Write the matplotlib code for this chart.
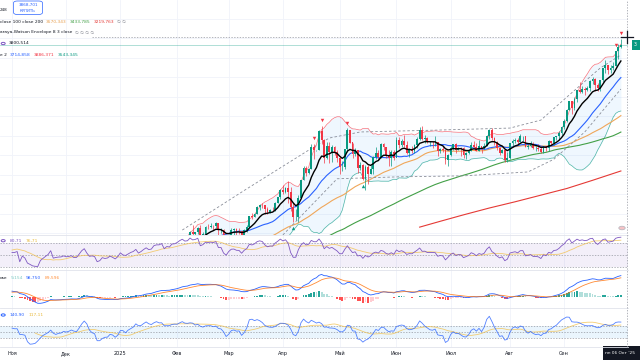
import numpy as np
import pandas as pd
import matplotlib
matplotlib.use("Agg")
import matplotlib.pyplot as plt
from matplotlib.patches import Rectangle, FancyBboxPatch, Circle
from matplotlib.lines import Line2D

# ---------------- data (daily bars, gold) ----------------
# warm-up bars (Oct 2024) used only to initialise the indicators
warm_close = [2662, 2657, 2656, 2653, 2644, 2622, 2608, 2630, 2657, 2649, 2662, 2674, 2692, 2722, 2720, 2748, 2715, 2735, 2747, 2743, 2774, 2788, 2744]
warm_high = [2670, 2672, 2670, 2675, 2660, 2650, 2625, 2633, 2671, 2662, 2674, 2676, 2697, 2724, 2740, 2749, 2758, 2739, 2749, 2748, 2774, 2790, 2790]
warm_low = [2625, 2642, 2644, 2643, 2635, 2605, 2604, 2603, 2626, 2641, 2640, 2653, 2669, 2692, 2704, 2715, 2708, 2715, 2723, 2730, 2733, 2764, 2730]

close_nov = [2736, 2736, 2743, 2659, 2706, 2685, 2619, 2598, 2573, 2565, 2563, 2611, 2631, 2651, 2670, 2715, 2625, 2633, 2638, 2639, 2650]
high_nov = [2762, 2750, 2750, 2749, 2712, 2709, 2685, 2626, 2618, 2588, 2577, 2614, 2639, 2656, 2673, 2721, 2721, 2640, 2654, 2642, 2665]
low_nov = [2730, 2728, 2730, 2652, 2658, 2679, 2610, 2590, 2570, 2537, 2560, 2562, 2606, 2627, 2652, 2668, 2605, 2605, 2620, 2630, 2636]

close_dec = [2640, 2643, 2650, 2632, 2633, 2660, 2694, 2718, 2681, 2648, 2652, 2646, 2587, 2595, 2622, 2613, 2617, 2633, 2621, 2606, 2624]
high_dec = [2657, 2650, 2658, 2654, 2644, 2667, 2697, 2721, 2726, 2690, 2656, 2654, 2654, 2632, 2632, 2630, 2621, 2638, 2637, 2623, 2628]
low_dec = [2621, 2628, 2635, 2624, 2613, 2631, 2658, 2685, 2677, 2644, 2640, 2637, 2583, 2583, 2584, 2603, 2607, 2616, 2615, 2597, 2602]

close_jan = [2658, 2640, 2635, 2648, 2661, 2670, 2690, 2663, 2677, 2697, 2715, 2703, 2708, 2745, 2755, 2755, 2770, 2740, 2763, 2760, 2795, 2798]
high_jan = [2660, 2665, 2649, 2665, 2670, 2677, 2697, 2690, 2679, 2700, 2724, 2718, 2715, 2746, 2763, 2763, 2786, 2772, 2765, 2774, 2799, 2817]
low_jan = [2622, 2634, 2614, 2637, 2648, 2656, 2664, 2656, 2661, 2671, 2694, 2696, 2698, 2700, 2740, 2744, 2753, 2730, 2738, 2753, 2756, 2779]

close_feb = [2815, 2843, 2866, 2856, 2861, 2908, 2898, 2905, 2928, 2883, 2898, 2935, 2933, 2939, 2936, 2951, 2915, 2916, 2876, 2858]
high_feb = [2831, 2845, 2882, 2874, 2887, 2911, 2942, 2909, 2933, 2943, 2905, 2936, 2947, 2955, 2941, 2956, 2950, 2930, 2923, 2884]
low_feb = [2772, 2813, 2837, 2834, 2854, 2860, 2881, 2864, 2897, 2876, 2882, 2895, 2921, 2928, 2919, 2930, 2889, 2900, 2873, 2832]

close_mar = [2893, 2918, 2920, 2911, 2910, 2890, 2917, 2934, 2989, 2984, 3000, 3034, 3048, 3044, 3023, 3011, 3020, 3019, 3057, 3085, 3124]
high_mar = [2896, 2928, 2928, 2925, 2930, 2914, 2920, 2941, 2990, 3005, 3002, 3038, 3053, 3057, 3047, 3036, 3024, 3033, 3059, 3086, 3128]
low_mar = [2856, 2880, 2894, 2894, 2899, 2880, 2881, 2906, 2932, 2975, 2982, 3000, 3018, 3028, 2999, 3000, 3006, 3016, 3013, 3055, 3076]

close_apr = [3113, 3134, 3114, 3037, 2982, 2983, 3083, 3175, 3237, 3210, 3228, 3343, 3327, 3327, 3424, 3381, 3288, 3349, 3319, 3345, 3316, 3288]
high_apr = [3149, 3136, 3168, 3136, 3055, 3023, 3099, 3176, 3245, 3245, 3233, 3358, 3358, 3330, 3430, 3450, 3386, 3370, 3368, 3352, 3350, 3326]
low_apr = [3100, 3105, 3054, 3015, 2957, 2970, 2957, 3080, 3175, 3194, 3205, 3229, 3283, 3320, 3330, 3360, 3260, 3283, 3260, 3268, 3300, 3268]

close_may = [3239, 3240, 3334, 3431, 3366, 3305, 3325, 3236, 3250, 3178, 3240, 3203, 3230, 3290, 3314, 3294, 3357, 3342, 3301, 3287, 3317, 3289]
high_may = [3290, 3269, 3335, 3438, 3416, 3366, 3340, 3304, 3265, 3258, 3252, 3253, 3250, 3295, 3345, 3325, 3366, 3365, 3345, 3325, 3330, 3325]
low_may = [3202, 3222, 3232, 3318, 3365, 3286, 3297, 3208, 3227, 3172, 3121, 3154, 3205, 3207, 3283, 3277, 3287, 3325, 3285, 3245, 3245, 3277]

close_jun = [3381, 3353, 3373, 3352, 3310, 3325, 3322, 3354, 3386, 3432, 3385, 3388, 3369, 3369, 3368, 3368, 3323, 3333, 3327, 3274, 3303]
high_jun = [3392, 3392, 3385, 3403, 3375, 3340, 3348, 3360, 3396, 3446, 3451, 3405, 3395, 3372, 3375, 3398, 3368, 3340, 3350, 3330, 3305]
low_jun = [3290, 3340, 3343, 3343, 3308, 3294, 3312, 3314, 3338, 3380, 3380, 3366, 3362, 3348, 3340, 3347, 3295, 3313, 3315, 3255, 3247]

close_jul = [3338, 3357, 3326, 3337, 3336, 3301, 3313, 3324, 3355, 3344, 3324, 3347, 3339, 3350, 3397, 3431, 3387, 3368, 3337, 3314, 3326, 3274, 3289]
high_jul = [3350, 3358, 3366, 3345, 3342, 3345, 3317, 3330, 3368, 3375, 3366, 3377, 3345, 3362, 3402, 3433, 3439, 3394, 3373, 3345, 3334, 3334, 3315]
low_jul = [3297, 3329, 3312, 3326, 3296, 3287, 3283, 3308, 3322, 3340, 3320, 3320, 3310, 3333, 3347, 3384, 3381, 3351, 3325, 3301, 3310, 3268, 3268]

close_aug = [3363, 3373, 3381, 3369, 3397, 3398, 3342, 3348, 3356, 3336, 3336, 3332, 3315, 3348, 3339, 3372, 3365, 3393, 3397, 3416, 3448]
high_aug = [3363, 3385, 3390, 3390, 3409, 3400, 3400, 3357, 3375, 3368, 3348, 3358, 3346, 3350, 3350, 3379, 3376, 3394, 3398, 3424, 3453]
low_aug = [3282, 3346, 3366, 3358, 3370, 3375, 3342, 3331, 3345, 3331, 3323, 3323, 3311, 3312, 3321, 3322, 3352, 3351, 3377, 3386, 3402]

close_sep = [3476, 3533, 3578, 3545, 3587, 3636, 3625, 3640, 3634, 3643, 3679, 3690, 3660, 3644, 3685, 3746, 3763, 3736, 3749, 3760, 3833, 3858]
high_sep = [3489, 3540, 3578, 3564, 3600, 3637, 3674, 3657, 3652, 3655, 3685, 3703, 3697, 3670, 3688, 3749, 3791, 3766, 3761, 3779, 3835, 3872]
low_sep = [3436, 3470, 3531, 3511, 3534, 3576, 3620, 3618, 3610, 3631, 3631, 3668, 3628, 3628, 3631, 3675, 3721, 3717, 3722, 3739, 3756, 3792]

close_oct = [3866]
high_oct = [3895]
low_oct = [3849]

# 200-day SMA (bar index, value)
ma200_idx = [158, 166, 175, 185, 195, 205, 215, 225, 236]
ma200_val = [2932, 2962, 2995, 3030, 3062, 3096, 3130, 3172, 3220]

# Nadaraya-Watson envelope (bar index, value)
nw_up_idx = [66, 90, 115, 123, 135, 166, 193, 205, 216, 228, 236]
nw_up_val = [2917, 3120, 3327, 3389, 3420, 3430, 3440, 3481, 3610, 3748, 3815]
nw_lo_idx = [105, 126, 150, 175, 200, 210, 222, 236]
nw_lo_val = [2892, 3180, 3190, 3195, 3215, 3280, 3420, 3640]

# signal bars of the envelope
sell_idx = [117, 120, 130, 234, 236]
buy_idx = [109, 136]

month_labels = ["Ноя", "Дек", "2025", "Фев", "Мар", "Апр", "Май", "Июн", "Июл", "Авг", "Сен"]
month_start = [0, 21, 42, 64, 84, 105, 127, 149, 170, 193, 214]

# legend rows (text, colour)
leg_ma = [("close 100 close 200", "#131722"), ("3570,343", "#E8A050"), ("3433,785", "#43A047"),
          ("3219,763", "#E53935"), ("∅ ∅", "#787B86")]
leg_nw = [("araya-Watson Envelope 8 3 close", "#131722"), ("∅ ∅ ∅ ∅", "#787B86")]
leg_ema = [("3800,514", "#131722")]
leg_bb = [("e 2", "#131722"), ("3714,858", "#2962FF"), ("3886,371", "#F23645"), ("3543,345", "#089981")]
leg_rsi = [("80,71", "#7E57C2"), ("76,71", "#E8B93C")]
leg_macd = [("ose", "#131722"), ("9,154", "#7FCBC4"), ("98,750", "#2962FF"), ("89,596", "#FF8F3A")]
leg_cci = [("140,90", "#2962FF"), ("117,11", "#E8B93C")]

# ---------------- assemble ----------------
closes = (close_nov + close_dec + close_jan + close_feb + close_mar + close_apr +
          close_may + close_jun + close_jul + close_aug + close_sep + close_oct)
highs = (high_nov + high_dec + high_jan + high_feb + high_mar + high_apr +
         high_may + high_jun + high_jul + high_aug + high_sep + high_oct)
lows = (low_nov + low_dec + low_jan + low_feb + low_mar + low_apr +
        low_may + low_jun + low_jul + low_aug + low_sep + low_oct)
nw_ = len(warm_close)
allc = pd.Series(warm_close + closes, dtype=float)
allh = pd.Series(warm_high + highs, dtype=float)
alll = pd.Series(warm_low + lows, dtype=float)
allx = np.arange(len(allc)) - nw_
opens = allc.shift(1).fillna(allc.iloc[0]).values

# indicators
ma50 = allc.rolling(50).mean()
ma100 = allc.rolling(100).mean()
ema9 = allc.ewm(span=9, adjust=False).mean()
bb_mid = allc.rolling(20).mean()
bb_sd = allc.rolling(20).std(ddof=0)
bb_up = bb_mid + 2 * bb_sd
bb_lo = bb_mid - 2 * bb_sd
d = allc.diff()
up = d.clip(lower=0).ewm(alpha=1 / 14, adjust=False).mean()
dn = (-d.clip(upper=0)).ewm(alpha=1 / 14, adjust=False).mean()
rsi = 100 - 100 / (1 + up / dn)
rsi_ma = rsi.rolling(14).mean()
macd = allc.ewm(span=12, adjust=False).mean() - allc.ewm(span=26, adjust=False).mean()
sig = macd.ewm(span=9, adjust=False).mean()
hist = macd - sig
tp = (allh + alll + allc) / 3
tp_ma = tp.rolling(20).mean()
md = tp.rolling(20).apply(lambda a: np.mean(np.abs(a - a.mean())), raw=True)
cci = (tp - tp_ma) / (0.015 * md)
cci_ma = cci.rolling(14).mean()

vis = allx >= 0

# ---------------- figure ----------------
W, H = 640, 360
fig = plt.figure(figsize=(6.4, 3.6), dpi=100)
fig.patch.set_facecolor("white")
PR = 628
X0, PXB = 12, 2.58
xl = (-X0 / PXB, (PR - X0) / PXB)


def add_ax(top, bottom):
    ax = fig.add_axes([0, 1 - bottom / H, PR / W, (bottom - top) / H])
    ax.set_xlim(*xl)
    for s in ax.spines.values():
        s.set_visible(False)
    ax.set_xticks([])
    ax.set_yticks([])
    for m in month_start:
        ax.axvline(m, color="#F0F3FA", lw=0.6, zorder=0)
    return ax


def ylim_from(ax, top_px, bot_px, v1, y1, v2, y2):
    k = (y2 - y1) / (v1 - v2)  # px per unit
    top_v = v1 + (y1 - top_px) / k
    bot_v = v1 - (bot_px - y1) / k
    ax.set_ylim(bot_v, top_v)


UP, DN = "#089981", "#F23645"

# main pane
ax = add_ax(0, 235)
ylim_from(ax, 0, 235, 3866, 45, 3216, 171.75)
for g in range(2900, 4100, 100):
    ax.axhline(g, color="#F0F3FA", lw=0.6, zorder=0)

xs = allx[vis]
ax.fill_between(xs, bb_up[vis], bb_lo[vis], color="#2196F3", alpha=0.07, lw=0, zorder=1)
ax.plot(xs, bb_up[vis], color="#F23645", lw=0.5, alpha=0.7, zorder=2)
ax.plot(xs, bb_lo[vis], color="#089981", lw=0.5, alpha=0.7, zorder=2)
ax.plot(xs, bb_mid[vis], color="#2962FF", lw=0.8, zorder=3)
ax.plot(xs, ma50[vis], color="#F0A75A", lw=0.8, zorder=2)
ax.plot(xs, ma100[vis], color="#43A047", lw=0.8, zorder=2)
ax.plot(ma200_idx, ma200_val, color="#E53935", lw=0.8, zorder=2)
ax.plot(nw_up_idx, nw_up_val, color="#8A8E99", lw=0.6, ls=(0, (3, 2.5)), zorder=2)
ax.plot(nw_lo_idx, nw_lo_val, color="#8A8E99", lw=0.6, ls=(0, (3, 2.5)), zorder=2)

o = opens[vis]
c = allc[vis].values
h = allh[vis].values
l = alll[vis].values
cols = np.where(c >= o, UP, DN)
ax.vlines(xs, l, h, colors=cols, lw=0.5, zorder=4)
ax.bar(xs, np.maximum(np.abs(c - o), 1.5), bottom=np.minimum(o, c), width=0.7,
       color=cols, lw=0, zorder=5)
ax.plot(xs, ema9[vis], color="#000000", lw=1.0, zorder=6)

ax.scatter(sell_idx, [highs[i] + 30 for i in sell_idx], marker="v", s=6, color=DN, zorder=7, lw=0)
ax.scatter(buy_idx, [lows[i] - 30 for i in buy_idx], marker="^", s=6, color=UP, zorder=7, lw=0)

# price line and crosshair
ax.axhline(closes[-1], color="#089981", lw=0.5, alpha=0.45, zorder=1)
ax.plot([(92 - X0) / PXB, xl[1]], [3866 + 8 / 0.195] * 2, color="#9598A1", lw=0.5,
        ls=(0, (2, 2)), zorder=8)

# RSI pane
ar = add_ax(235, 270)
ylim_from(ar, 235, 270, 70, 243.3, 30, 266.7)
ar.axhspan(30, 70, color="#7E57C2", alpha=0.09, lw=0)
for v in (70, 50, 30):
    ar.axhline(v, color="#9598A1", lw=0.5, ls=(0, (2, 2)))
ar.plot(xs, rsi_ma[vis], color="#F2C14E", lw=0.6, alpha=0.8)
ar.plot(xs, rsi[vis], color="#7E57C2", lw=0.6)

# MACD pane
am = add_ax(270, 308)
ylim_from(am, 270, 308, 0, 297, 98.75, 275)
hv = hist[vis].values
hp = np.r_[hv[0], hv[:-1]]
hcol = np.where(hv >= 0, np.where(hv >= hp, "#26A69A", "#B2DFDB"),
                np.where(hv < hp, "#FF5252", "#FFCDD2"))
am.bar(xs, hv, width=0.7, color=hcol, lw=0)
am.plot(xs, macd[vis], color="#2962FF", lw=0.6)
am.plot(xs, sig[vis], color="#FF6D00", lw=0.6, alpha=0.8)

# CCI pane
ac = add_ax(308, 347)
ylim_from(ac, 308, 347, 100, 326, -100, 337.5)
ac.axhspan(-100, 100, color="#2196F3", alpha=0.09, lw=0)
for v in (100, 0, -100):
    ac.axhline(v, color="#9598A1", lw=0.5, ls=(0, (2, 2)))
ac.plot(xs, cci_ma[vis], color="#F2C14E", lw=0.6, alpha=0.8)
ac.plot(xs, cci[vis], color="#2962FF", lw=0.6, alpha=0.8)

# pane separators
for yy in (235, 270, 308, 347):
    fig.add_artist(Line2D([0, PR / W], [1 - yy / H] * 2, color="#E0E3EB", lw=0.6))

# crosshair vertical + cursor
cx = X0 + 238.2 * PXB
fig.add_artist(Line2D([cx / W] * 2, [1 - 347 / H, 1], color="#9598A1", lw=0.5, ls=(0, (2, 2))))
fig.add_artist(Line2D([(cx - 6) / W, (cx + 6) / W], [1 - 37 / H] * 2, color="#131722", lw=0.9))
fig.add_artist(Line2D([cx / W] * 2, [1 - 31 / H, 1 - 43 / H], color="#131722", lw=0.9))

renderer = fig.canvas.get_renderer()


def T(x, y, s, color="#131722", size=3.2, ha="left"):
    return fig.text(x / W, 1 - y / H, s, color=color, fontsize=size, va="center", ha=ha)


def row(x0, y, pieces, gap=3.0, size=3.2):
    x = x0
    for s, col in pieces:
        t = T(x, y, s, color=col, size=size)
        x += t.get_window_extent(renderer=renderer).width + gap


# time axis labels
for lab, m in zip(month_labels, month_start):
    T(X0 + m * PXB, 353.5, lab, size=3.6, ha="center")

# date label of the crosshair
fig.add_artist(Rectangle((603 / W, 0), 40 / W, 14 / H, color="#131722", lw=0))
T(605, 353.5, "пн 06 Окт '25", color="white", size=3.1)

# price label on the right (only its first glyph is inside the picture)
fig.add_artist(Rectangle((632 / W, 1 - 50 / H), 10 / W, 10 / H, color="#089981", lw=0))
T(634, 45, "3", color="white", size=3.4)

# header / legends
T(0, 10, "248", size=3.0)
fig.add_artist(FancyBboxPatch((13.5 / W, 1 - 14.5 / H), 29 / W, 13.5 / H,
                              boxstyle="round,pad=0,rounding_size=0.006",
                              fc="white", ec="#2962FF", lw=0.5))
T(28, 5, "3868,701", color="#2962FF", size=3.0, ha="center")
T(28, 10.7, "КУПИТЬ", color="#2962FF", size=2.8, ha="center")

row(0, 22, leg_ma)
row(0, 32.5, leg_nw)
fig.add_artist(Circle((3.2 / W, 1 - 43.5 / H), 2.0 / W, fc="white", ec="#7E57C2", lw=0.7))
row(9, 43.5, leg_ema)
row(0, 54.5, leg_bb)

fig.add_artist(Circle((3.2 / W, 1 - 240.7 / H), 2.0 / W, fc="white", ec="#7E57C2", lw=0.7))
row(10, 240.7, leg_rsi)
row(0, 277.7, leg_macd)
fig.add_artist(Circle((3.2 / W, 1 - 315 / H), 2.0 / W, fc="white", ec="#2962FF", lw=0.7))
row(10, 315, leg_cci)

# flag icon
fig.add_artist(Circle((622 / W, 1 - 228 / H), 3.2 / W, fc="#F6C3C6", ec="#B0B3BC", lw=0.5))

fig.savefig("out.png", dpi=100, facecolor="white")
